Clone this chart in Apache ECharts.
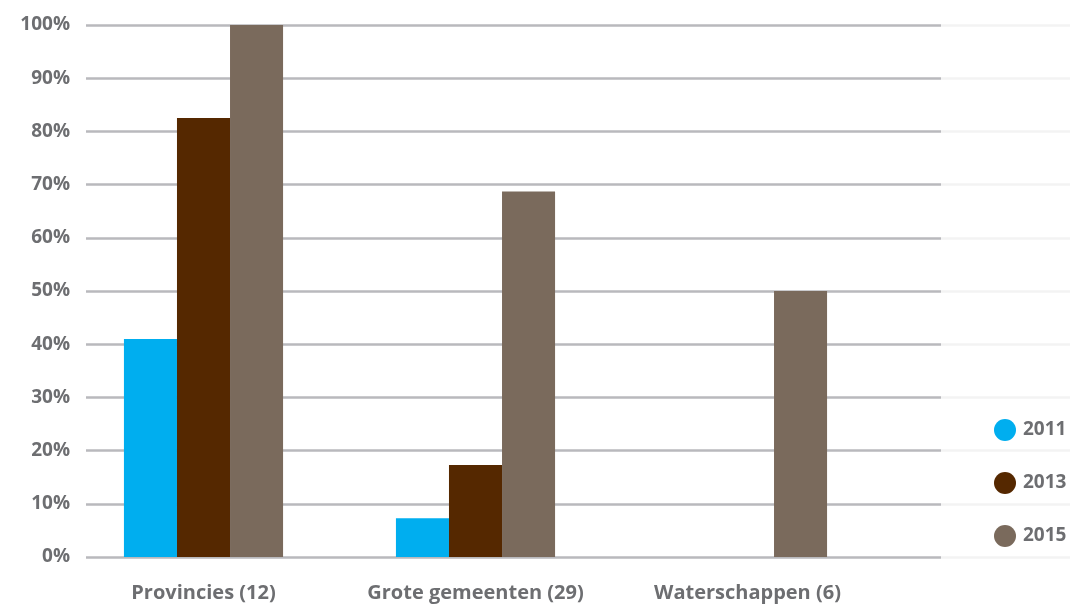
<!DOCTYPE html>
<html>
<head>
<meta charset="utf-8">
<script src="https://cdn.jsdelivr.net/npm/echarts@6/dist/echarts.min.js"></script>
<style>
html,body{margin:0;padding:0;background:#fff;}
#c{width:1075px;height:608px;}
</style>
</head>
<body>
<div id="c"></div>
<script>
var categories = ['Provincies (12)', 'Grote gemeenten (29)', 'Waterschappen (6)'];
var seriesNames = ['2011', '2013', '2015'];
var values2011 = [41, 7.3, null];
var values2013 = [82.5, 17.3, null];
var values2015 = [100, 68.7, 50];
var yTicks = [0, 10, 20, 30, 40, 50, 60, 70, 80, 90, 100];

var colors = ['#00aeef', '#552800', '#7a6a5c'];
var textColor = '#6d6e71';
var fontFam = '"Open Sans", Lato, sans-serif';

var chart = echarts.init(document.getElementById('c'), null, {renderer: 'canvas'});
var gridTop = 25, gridBottom = 51;
var yMin = yTicks[0], yMax = yTicks[yTicks.length - 1];
var option = {
  animation: false,
  color: colors,
  grid: [
    {left: 86, right: 134, top: gridTop, bottom: gridBottom},
    {left: 941, right: 5, top: gridTop, bottom: gridBottom},
    {left: 67.5, right: 191.5, top: gridTop, bottom: gridBottom}
  ],
  xAxis: [
    {type: 'value', gridIndex: 0, min: 0, max: 1, show: false},
    {type: 'value', gridIndex: 1, min: 0, max: 1, show: false},
    {type: 'category', gridIndex: 2, data: categories,
     axisLine: {show: false}, axisTick: {show: false},
     axisLabel: {interval: 0, hideOverlap: false, color: textColor, fontSize: 20, fontWeight: 'bold', fontFamily: fontFam, margin: 26}}
  ],
  yAxis: [
    {type: 'value', gridIndex: 0, min: yMin, max: yMax, interval: 10,
     axisLine: {show: false}, axisTick: {show: false},
     axisLabel: {formatter: '{value}%', color: textColor, fontSize: 19, fontWeight: 'bold', fontFamily: fontFam, margin: 16},
     splitLine: {lineStyle: {color: '#b9b9bd', width: 2.5}}},
    {type: 'value', gridIndex: 1, min: yMin, max: yMax, interval: 10,
     axisLine: {show: false}, axisTick: {show: false}, axisLabel: {show: false},
     splitLine: {lineStyle: {color: '#f3f3f3', width: 2.5}}},
    {type: 'value', gridIndex: 2, min: yMin, max: yMax, interval: 10, show: false,
     splitLine: {show: false}}
  ],
  legend: {
    orient: 'vertical', left: 989, top: 414, itemGap: 31,
    itemWidth: 22, itemHeight: 22, icon: 'circle',
    textStyle: {color: textColor, fontSize: 19, fontWeight: 'bold', fontFamily: fontFam, padding: [0, 0, 0, 2]},
    data: seriesNames
  },
  series: [
    {name: seriesNames[0], type: 'bar', xAxisIndex: 2, yAxisIndex: 2, data: values2011, barGap: 0, barCategoryGap: '41.5%'},
    {name: seriesNames[1], type: 'bar', xAxisIndex: 2, yAxisIndex: 2, data: values2013, barGap: 0, barCategoryGap: '41.5%'},
    {name: seriesNames[2], type: 'bar', xAxisIndex: 2, yAxisIndex: 2, data: values2015, barGap: 0, barCategoryGap: '41.5%'}
  ]
};
chart.setOption(option);
</script>
</body>
</html>
